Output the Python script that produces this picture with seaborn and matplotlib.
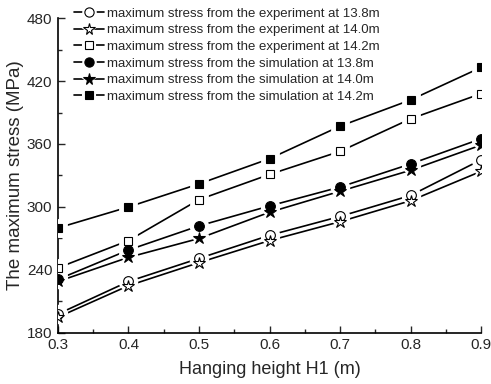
import matplotlib
matplotlib.use("Agg")
import matplotlib.pyplot as plt
from matplotlib.lines import Line2D
from matplotlib.legend_handler import HandlerTuple
from matplotlib.ticker import MultipleLocator, FormatStrFormatter
import seaborn as sns
import pandas as pd

sns.set_style("white")
plt.rcParams['font.family'] = ['Liberation Sans', 'DejaVu Sans']

heights = [0.3, 0.4, 0.5, 0.6, 0.7, 0.8, 0.9]
exp_138 = [198, 229, 251, 273, 291, 311, 345]
exp_140 = [195, 225, 247, 268, 286, 306, 334]
exp_142 = [242, 268, 307, 331, 353, 384, 408]
sim_138 = [231, 259, 282, 301, 319, 341, 365]
sim_140 = [229, 252, 270, 295, 315, 335, 359]
sim_142 = [280, 300, 322, 346, 377, 402, 433]

labels = [
    "maximum stress from the experiment at 13.8m",
    "maximum stress from the experiment at 14.0m",
    "maximum stress from the experiment at 14.2m",
    "maximum stress from the simulation at 13.8m",
    "maximum stress from the simulation at 14.0m",
    "maximum stress from the simulation at 14.2m",
]
series = [exp_138, exp_140, exp_142, sim_138, sim_140, sim_142]
markers = ['o', '*', 's', 'o', '*', 's']
fills = ['white', 'white', 'white', 'black', 'black', 'black']
sizes = [7, 9, 6.3, 7, 9, 6.3]

fig = plt.figure(figsize=(4.91, 3.84), dpi=100)
ax = fig.add_axes([0.118, 0.133, 0.862, 0.820])

# lines
for vals in series:
    df = pd.DataFrame({"x": heights, "y": vals})
    sns.lineplot(data=df, x="x", y="y", ax=ax, color="black", lw=1.2,
                 legend=False, zorder=2)
# white halos to create gaps between lines and markers
for vals, m, s in zip(series, markers, sizes):
    ax.plot(heights, vals, ls='', marker=m, ms=s + 5, mfc='white',
            mec='white', mew=2, zorder=3)
# markers
for vals, m, f, s in zip(series, markers, fills, sizes):
    ax.plot(heights, vals, ls='', marker=m, ms=s, mfc=f,
            mec='black', mew=0.8, zorder=4)

ax.set_xlim(0.3, 0.9)
ax.set_ylim(180, 480)
ax.xaxis.set_major_locator(MultipleLocator(0.1))
ax.xaxis.set_minor_locator(MultipleLocator(0.05))
ax.yaxis.set_major_locator(MultipleLocator(60))
ax.yaxis.set_minor_locator(MultipleLocator(30))
ax.xaxis.set_major_formatter(FormatStrFormatter('%.1f'))
ax.tick_params(axis='both', which='major', direction='in', length=5,
               width=1, labelsize=11, pad=4, left=True, bottom=True)
ax.tick_params(axis='both', which='minor', direction='in', length=3,
               width=1, left=True, bottom=True)
for sp in ['top', 'right']:
    ax.spines[sp].set_visible(False)
for sp in ['left', 'bottom']:
    ax.spines[sp].set_linewidth(1.2)
    ax.spines[sp].set_color('black')

ax.set_xlabel("Hanging height H1 (m)", fontsize=13, labelpad=6)
ax.set_ylabel("The maximum stress (MPa)", fontsize=13.5, labelpad=2)

handles = []
for m, f, s in zip(markers, fills, sizes):
    h = (Line2D([], [], color='black', lw=1.2),
         Line2D([], [], ls='', marker=m, ms=s + 2, mfc='white', mec='white', mew=1.5),
         Line2D([], [], ls='', marker=m, ms=s * 0.95, mfc=f, mec='black', mew=0.8))
    handles.append(h)
leg = ax.legend(handles, labels, handler_map={tuple: HandlerTuple(ndivide=1)},
                loc='upper left', bbox_to_anchor=(0.025, 1.05), frameon=False,
                fontsize=9.5, labelspacing=0.33, handlelength=2.3,
                handletextpad=0.25, borderaxespad=0)

fig.savefig("out.png", dpi=100)
